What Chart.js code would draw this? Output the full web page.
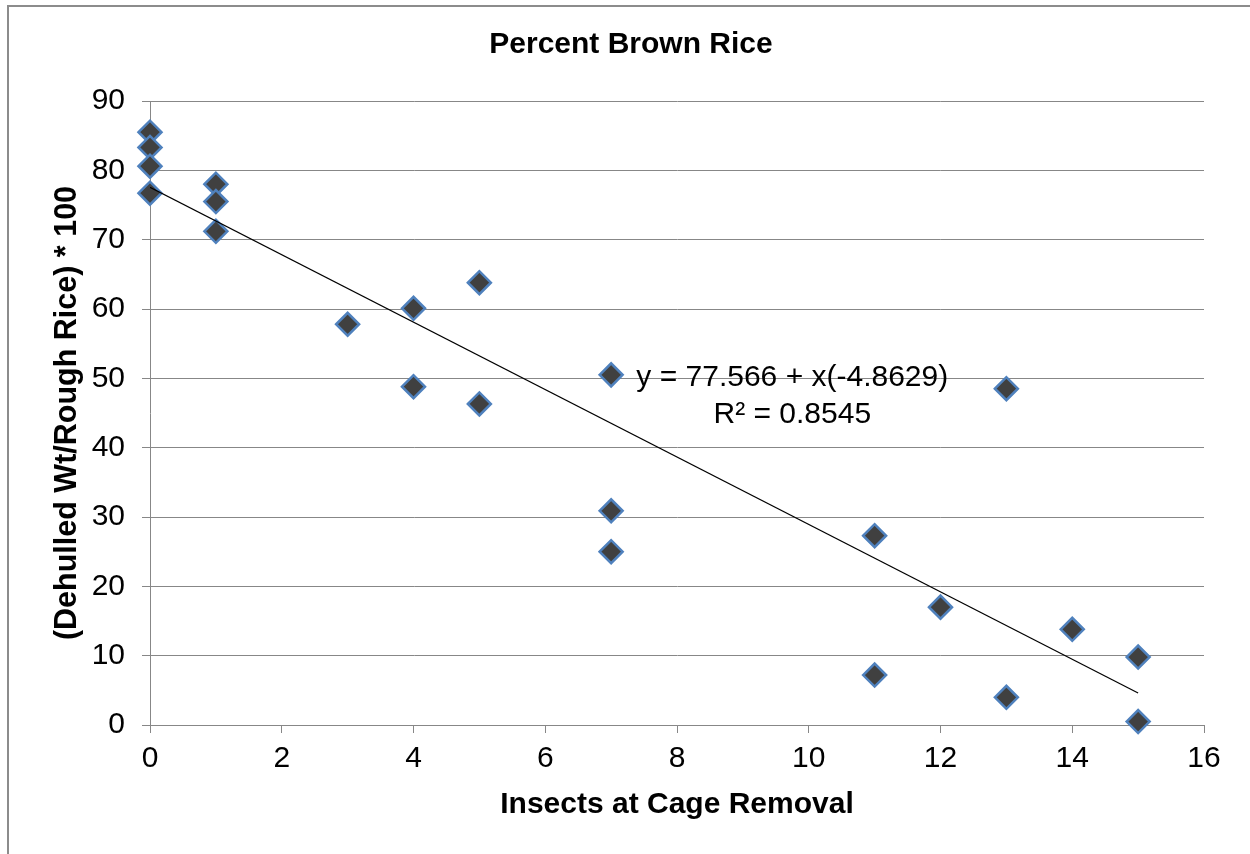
<!DOCTYPE html>
<html>
<head>
<meta charset="utf-8">
<title>Percent Brown Rice</title>
<script src="https://cdn.jsdelivr.net/npm/chart.js@4/dist/chart.umd.min.js"></script>
<style>
  html, body { margin: 0; padding: 0; background: #fff; }
  canvas { display: block; }
</style>
</head>
<body>
<canvas id="chart" width="1250" height="854"></canvas>
<script>
// insects counted at cage removal vs. (dehulled wt / rough rice) * 100
const insects = [0, 0, 0, 0, 1, 1, 1, 3, 4, 4, 5, 5, 7, 7, 7, 11, 11, 12, 13, 13, 14, 15, 15]
const percentBrown = [85.5, 83.3, 80.6, 76.7, 78.0, 75.5, 71.2, 57.8, 60.1, 48.8, 63.8, 46.3,
  50.5, 30.9, 25.0, 27.3, 7.2, 17.0, 48.5, 4.0, 13.8, 9.8, 0.5]

// linear fit as reported on the chart
const fitIntercept = 77.566
const fitSlope = -4.8629
const fitR2 = 0.8545
const fitRange = [0, 15]

const xTicks = { min: 0, max: 16, step: 2 }
const yTicks = { min: 0, max: 90, step: 10 }

const chartTitle = 'Percent Brown Rice'

const FONT = 'Liberation Sans, Arial, sans-serif'
const GRID = '#878787'

const trend = fitRange.map((x) => ({ x, y: fitIntercept + fitSlope * x }))
const points = insects.map((x, i) => ({ x, y: percentBrown[i] }))

// gray frame (top and left edges) plus the chart heading
const frame = {
  id: 'frame',
  beforeDraw(chart) {
    const { ctx, width, height } = chart
    ctx.save()
    ctx.strokeStyle = '#8c8c8c'
    ctx.lineWidth = 2
    ctx.beginPath()
    ctx.moveTo(8, height)
    ctx.lineTo(8, 6)
    ctx.lineTo(width, 6)
    ctx.stroke()

    ctx.fillStyle = '#000'
    ctx.font = `bold 30px ${FONT}`
    ctx.textAlign = 'center'
    ctx.textBaseline = 'middle'
    ctx.fillText(chartTitle, 631, 45)
    ctx.restore()
  },
}

// regression equation label
const equation = {
  id: 'equation',
  afterDatasetsDraw(chart) {
    const { ctx, scales } = chart
    const cx = scales.x.getPixelForValue(9.75)
    const cy = scales.y.getPixelForValue(50.1)
    ctx.save()
    ctx.fillStyle = '#000'
    ctx.font = `30px ${FONT}`
    ctx.textAlign = 'center'
    ctx.textBaseline = 'middle'
    ctx.fillText(`y = ${fitIntercept} + x(${fitSlope})`, cx, cy)
    ctx.fillText(`R² = ${fitR2}`, cx, cy + 37)
    ctx.restore()
  },
}

new Chart(document.getElementById('chart'), {
  type: 'scatter',
  data: {
    datasets: [
      {
        label: chartTitle,
        data: points,
        pointStyle: 'rectRot',
        pointRadius: 11.5,
        pointHoverRadius: 11.5,
        backgroundColor: '#404040',
        borderColor: '#4f81bd',
        borderWidth: 2.5,
        clip: false,
        order: 2,
      },
      {
        label: 'Linear fit',
        type: 'line',
        data: trend,
        borderColor: '#000',
        borderWidth: 1.2,
        pointRadius: 0,
        fill: false,
        order: 1,
      },
    ],
  },
  options: {
    responsive: false,
    animation: false,
    layout: { padding: { left: 0, right: 46, top: 101, bottom: 0 } },
    plugins: {
      legend: { display: false },
      tooltip: { enabled: false },
      title: { display: false },
    },
    scales: {
      x: {
        type: 'linear',
        min: xTicks.min,
        max: xTicks.max,
        afterFit: (scale) => { scale.height = 129 },
        ticks: {
          stepSize: xTicks.step,
          color: '#000',
          padding: 8,
          font: { family: FONT, size: 30, lineHeight: 1.2 },
        },
        grid: { drawOnChartArea: false, color: GRID, tickLength: 8, tickColor: GRID },
        border: { color: GRID, width: 1 },
        title: {
          display: true,
          text: 'Insects at Cage Removal',
          color: '#000',
          font: { family: FONT, size: 30, weight: 'bold', lineHeight: 1.2 },
          padding: { top: 0, bottom: 31 },
        },
      },
      y: {
        type: 'linear',
        min: yTicks.min,
        max: yTicks.max,
        afterFit: (scale) => { scale.width = 150 },
        ticks: {
          stepSize: yTicks.step,
          color: '#000',
          padding: 17,
          font: { family: FONT, size: 30, lineHeight: 1.2 },
        },
        grid: { color: GRID, tickLength: 8, tickColor: GRID },
        border: { color: GRID, width: 1 },
        title: {
          display: true,
          text: '(Dehulled Wt/Rough Rice) * 100',
          color: '#000',
          font: { family: FONT, size: 30.5, weight: 'bold', lineHeight: 1.2 },
          padding: { top: 49, bottom: 0 },
        },
      },
    },
  },
  plugins: [frame, equation],
})
</script>
</body>
</html>
